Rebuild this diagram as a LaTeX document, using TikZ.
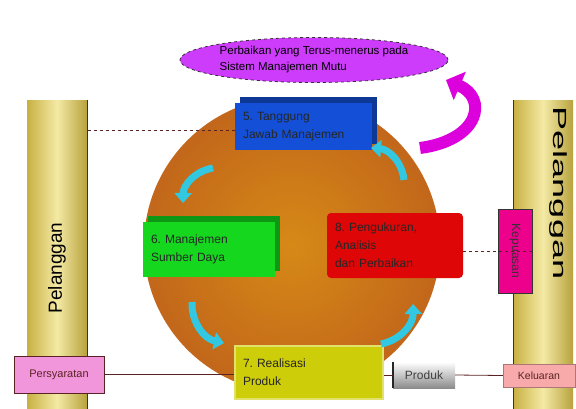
\documentclass[tikz,border=0pt]{standalone}
\usepackage{fontspec}
\setmainfont{Liberation Sans}
\usetikzlibrary{shapes.geometric,arrows.meta,shadows}
\frenchspacing

\definecolor{pillarDark}{RGB}{200,176,66}
\definecolor{pillarLight}{RGB}{244,234,165}
\definecolor{circOrange}{RGB}{204,108,28}
\definecolor{mgmtBlue}{RGB}{20,80,215}
\definecolor{resGreen}{RGB}{20,215,30}
\definecolor{measRed}{RGB}{222,6,6}
\definecolor{realYellow}{RGB}{205,205,10}
\definecolor{cycCyan}{RGB}{50,200,225}
\definecolor{impViolet}{RGB}{205,60,250}
\definecolor{impMagenta}{RGB}{220,0,220}
\definecolor{reqPink}{RGB}{242,150,220}
\definecolor{outPink}{RGB}{248,170,170}
\definecolor{lineDark}{RGB}{90,35,35}

\begin{document}
\begin{tikzpicture}[x=1pt,y=1pt,
    boxtext/.style={inner xsep=8pt, inner ysep=0pt, align=left, text=black!85,
      font=\fontsize{12}{18}\selectfont},
    cycarrow/.style={line width=7pt, cycCyan, -{Triangle[width=17pt,length=10pt]}}]

  \useasboundingbox (0,0) rectangle (576,-408);

  % pillars
  \begin{scope}[every node/.style={rectangle, minimum width=60pt, minimum height=310pt,
      inner sep=0pt, left color=pillarDark, right color=pillarDark!92!black, middle color=pillarLight}]
    \node (pillarL) at (57,-255) {};
    \node (pillarR) at (543,-255) {};
  \end{scope}
  \draw[lineDark] (pillarL.north east) -- (pillarL.south east);
  \draw[lineDark] (pillarR.north west) -- (pillarR.south west);

  \node[rotate=90, font=\fontsize{19}{19}\selectfont] (custL) at (57,-268) {Pelanggan};
  \node[rotate=-90, font=\fontsize{19}{19}\selectfont] (custR) at (558,-193) {\scalebox{1.9}[1]{Pelanggan}};

  % circle and improvement
  \node[circle, minimum size=296pt, inner sep=0pt, inner color=circOrange!80!yellow,
    outer color=circOrange!95!black] (proc) at (292,-245) {};

  \node[ellipse, minimum width=268pt, minimum height=45pt, inner sep=0pt, fill=impViolet,
    draw=black!80, dashed, line width=0.8pt, align=left, font=\fontsize{11.5}{16}\selectfont]
    (imp) at (314,-60) {Perbaikan yang Terus-menerus pada\\Sistem Manajemen Mutu};

  \coordinate (impTail) at (420,-148);
  \coordinate (impHead) at (446,-80);
  \draw[line width=12pt, impMagenta, -{Triangle[width=30pt,length=15pt]}]
    (impTail) .. controls (480,-140) and (488,-98) .. (impHead);

  % process boxes
  \node[boxtext, minimum width=137pt, minimum height=47pt, text width=121pt, fill=mgmtBlue,
    general shadow={fill=mgmtBlue!70!black, shadow xshift=5pt, shadow yshift=6pt}]
    (mgmt) at (303.5,-126.5) {5. Tanggung\\Jawab Manajemen};
  \node[boxtext, minimum width=132pt, minimum height=55pt, text width=116pt, fill=resGreen,
    general shadow={fill=resGreen!70!black, shadow xshift=5pt, shadow yshift=6pt}]
    (res) at (209,-249.5) {6. Manajemen\\Sumber Daya};
  \node[boxtext, minimum width=136pt, minimum height=65pt, text width=120pt, fill=measRed,
    rounded corners=4pt] (meas) at (395,-245.5) {8. Pengukuran,\\Analisis\\dan Perbaikan};
  \node[boxtext, minimum width=148pt, minimum height=53pt, text width=132pt, fill=realYellow,
    draw=realYellow!60!white, line width=2pt] (real) at (309,-372.5) {7. Realisasi\\Produk};

  % cycle arrows
  \coordinate (a56s) at (213,-168);
  \coordinate (a56e) at (183,-203);
  \coordinate (a67s) at (192,-302);
  \coordinate (a67e) at (224,-343);
  \coordinate (a78s) at (381,-344);
  \coordinate (a78e) at (413,-304);
  \coordinate (a85s) at (404,-180);
  \coordinate (a85e) at (371,-148);
  \draw[cycarrow] (a56s) to[bend right=40] (a56e);
  \draw[cycarrow] (a67s) to[bend right=40] (a67e);
  \draw[cycarrow] (a78s) to[bend right=40] (a78e);
  \draw[cycarrow] (a85s) to[bend right=40] (a85e);

  % inputs and outputs
  \begin{scope}[every node/.style={inner sep=0pt, font=\fontsize{11}{11}\selectfont}]
    \node[minimum width=90pt, minimum height=37pt, fill=reqPink, draw=lineDark, text=lineDark]
      (req) at (59,-374.5) {Persyaratan};
    \node[minimum width=62pt, minimum height=26pt, top color=white, bottom color=black!45,
      text=black!75, font=\fontsize{12}{12}\selectfont] (prod) at (424,-375) {Produk};
    \node[minimum width=72pt, minimum height=23pt, fill=outPink, draw=outPink!70!black,
      text=lineDark, font=\fontsize{10.5}{10.5}\selectfont] (out) at (539,-375.5) {Keluaran};
    \node[rotate=-90, minimum width=84pt, minimum height=34pt, fill=magenta, draw=black!80,
      text=black!80, font=\fontsize{12}{12}\selectfont] (sat) at (515,-251) {Kepuasan};
  \end{scope}
  \draw[line width=2pt, black!85] (prod.north west) -- (prod.south west);

  % connectors
  \draw[lineDark, dashed, line width=0.8pt] ([yshift=-4pt]mgmt.west) -- ([yshift=-4pt]mgmt.west -| pillarL.east);
  \draw[lineDark, dashed, line width=0.8pt] (sat.north) -- (sat.north -| meas.east);
  \draw[lineDark, line width=0.8pt] (req.east) -- (req.east -| real.west);
  \draw[lineDark, line width=0.8pt] (real.east |- prod.west) -- (prod.west);
  \draw[lineDark, line width=0.8pt] (prod.east) -- (out.west);

\end{tikzpicture}
\end{document}
